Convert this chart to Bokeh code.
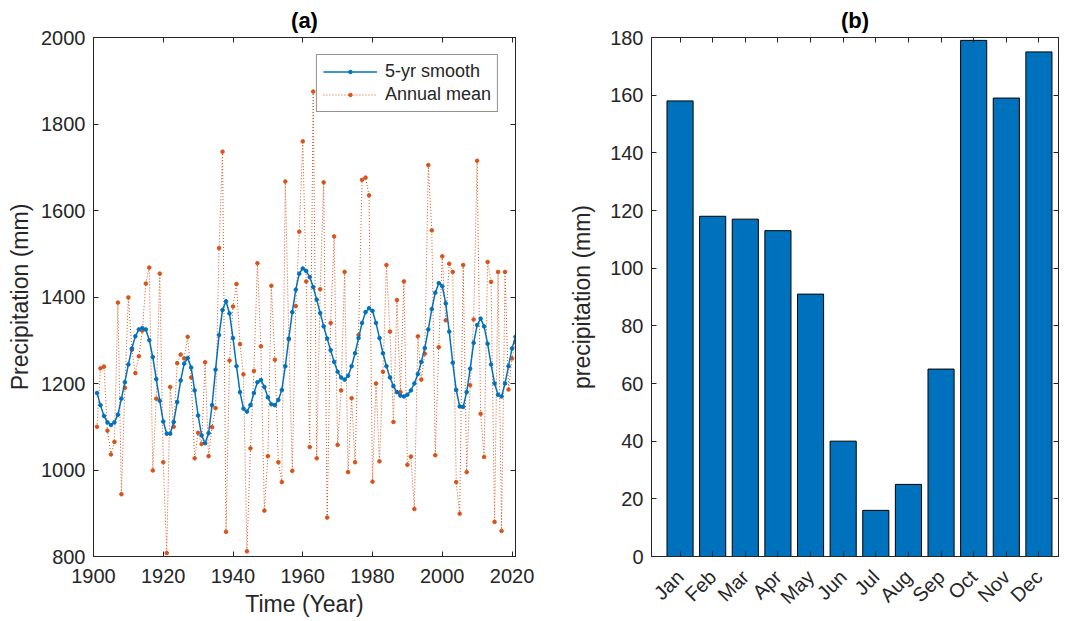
import math
from bokeh.plotting import figure
from bokeh.layouts import row
from bokeh.models import (Range1d, LinearAxis, FixedTicker, Legend, LegendItem,
                          ColumnDataSource)
from bokeh.embed import file_html
from bokeh.resources import INLINE

# ---- data -------------------------------------------------------------
years = list(range(1901, 2022))

annual_mean = [
    1100, 1235, 1239, 1091, 1036, 1065, 1387, 944, 1190, 1399,   # 1901-1910
    1278, 1224, 1263, 1322, 1431, 1468, 999, 1165, 1454, 1018,   # 1911-1920
    808, 1192, 1100, 1247, 1267, 1258, 1308, 1214, 1027, 1086,   # 1921-1930
    1060, 1249, 1032, 1099, 1143, 1513, 1736, 857, 1253, 1378,   # 1931-1940
    1430, 1291, 1221, 812, 1050, 1229, 1478, 1286, 906, 1032,    # 1941-1950
    1426, 1255, 1018, 972, 1667, 1302, 998, 1379, 1551, 1760,    # 1951-1960
    1436, 1053, 1875, 1027, 1418, 1665, 890, 1340, 1540, 1058,   # 1961-1970
    1184, 1458, 995, 1166, 1018, 1312, 1671, 1676, 1635, 973,    # 1971-1980
    1200, 1020, 1227, 1474, 1320, 1111, 1393, 1180, 1436, 1012,  # 1981-1990
    1031, 910, 1309, 1209, 1269, 1705, 1554, 1034, 1284, 1494,   # 1991-2000
    1346, 1477, 1458, 972, 899, 1474, 995, 1196, 1348, 1715,     # 2001-2010
    1130, 1030, 1481, 1435, 880, 1458, 859, 1458, 1186, 1258,    # 2011-2020
    1296,                                                        # 2021
]

smooth_5yr = [
    1178, 1150, 1125, 1110, 1104, 1110, 1128, 1165, 1203, 1244,  # 1901-1910
    1281, 1309, 1325, 1328, 1325, 1300, 1261, 1210, 1160, 1112,  # 1911-1920
    1084, 1084, 1111, 1157, 1207, 1246, 1259, 1237, 1184, 1126,  # 1921-1930
    1080, 1062, 1085, 1150, 1232, 1312, 1370, 1390, 1362, 1305,  # 1931-1940
    1240, 1180, 1142, 1135, 1150, 1178, 1203, 1208, 1192, 1168,  # 1941-1950
    1152, 1150, 1162, 1185, 1240, 1304, 1365, 1417, 1454, 1466,  # 1951-1960
    1460, 1446, 1423, 1394, 1363, 1332, 1304, 1277, 1250, 1227,  # 1961-1970
    1214, 1209, 1218, 1240, 1270, 1305, 1340, 1365, 1374, 1368,  # 1971-1980
    1340, 1305, 1270, 1240, 1214, 1194, 1180, 1172, 1170, 1174,  # 1981-1990
    1184, 1200, 1222, 1250, 1282, 1325, 1372, 1410, 1432, 1425,  # 1991-2000
    1385, 1320, 1248, 1185, 1147, 1146, 1180, 1234, 1294, 1335,  # 2001-2010
    1350, 1332, 1292, 1244, 1200, 1174, 1170, 1200, 1240, 1281,  # 2011-2020
    1308,                                                        # 2021
]

year_ticks = [1900, 1920, 1940, 1960, 1980, 2000, 2020]
rain_ticks = [800, 1000, 1200, 1400, 1600, 1800, 2000]

months = ["Jan", "Feb", "Mar", "Apr", "May", "Jun",
          "Jul", "Aug", "Sep", "Oct", "Nov", "Dec"]
monthly_precip = [158, 118, 117, 113, 91, 40, 16, 25, 65, 179, 159, 175]
month_ticks = list(range(1, 13))
monthly_ticks = [0, 20, 40, 60, 80, 100, 120, 140, 160, 180]

# ---- style ------------------------------------------------------------
BLUE = "#0072BD"
ORANGE = "#D95319"
INK = "#262626"
FONT = "Liberation Sans"
TICK_SIZE = "20px"
LABEL_SIZE = "23px"
TITLE_SIZE = "22px"


def style_axis(ax, ticks, show_labels=True, standoff=7, label_standoff=6):
    ax.ticker = FixedTicker(ticks=ticks)
    ax.axis_line_color = INK
    ax.axis_line_width = 1
    ax.major_tick_line_color = INK
    ax.major_tick_in = 5
    ax.major_tick_out = 0
    ax.minor_tick_line_color = None
    ax.major_label_text_font = FONT
    ax.axis_label_text_font = FONT
    ax.axis_label_text_color = INK
    ax.axis_label_text_font_style = "normal"
    ax.axis_label_text_font_size = LABEL_SIZE
    ax.axis_label_standoff = label_standoff
    if show_labels:
        ax.major_label_text_color = INK
        ax.major_label_text_font_size = TICK_SIZE
        ax.major_label_standoff = standoff
    else:
        # mirrored box ticks only, no numbers
        ax.major_label_text_color = None
        ax.major_label_text_font_size = "1px"
        ax.major_label_standoff = 0


def frame_box(fig, xticks, yticks):
    top = LinearAxis()
    right = LinearAxis()
    style_axis(top, xticks, show_labels=False)
    style_axis(right, yticks, show_labels=False)
    fig.add_layout(top, "above")
    fig.add_layout(right, "right")
    fig.outline_line_color = INK
    fig.outline_line_width = 1
    fig.xgrid.grid_line_color = None
    fig.ygrid.grid_line_color = None
    fig.title.align = "center"
    fig.title.text_font = FONT
    fig.title.text_font_size = TITLE_SIZE
    fig.title.text_font_style = "bold"
    fig.title.text_color = "#000000"


# ---- (a) annual series --------------------------------------------------
pa = figure(width=545, height=621, output_backend="svg", toolbar_location=None,
            x_range=Range1d(1900, 2021), y_range=Range1d(800, 2000),
            min_border_left=93, min_border_right=30,
            min_border_top=37, min_border_bottom=65, title="(a)")
pa.xaxis.axis_label = "Time (Year)"
pa.yaxis.axis_label = "Precipitation (mm)"
style_axis(pa.xaxis[0], year_ticks, standoff=12, label_standoff=5)
style_axis(pa.yaxis[0], rain_ticks, standoff=8, label_standoff=5)
frame_box(pa, year_ticks, rain_ticks)

src = ColumnDataSource(dict(year=years, annual=annual_mean, smooth=smooth_5yr))
ann_line = pa.line("year", "annual", source=src, line_color=ORANGE,
                   line_width=1, line_dash="1 2")
ann_dot = pa.scatter("year", "annual", source=src, size=3.6, marker="circle",
                     fill_color=ORANGE, line_color=ORANGE)
sm_line = pa.line("year", "smooth", source=src, line_color=BLUE, line_width=1.5)
sm_dot = pa.scatter("year", "smooth", source=src, size=3.6, marker="circle",
                    fill_color=BLUE, line_color=BLUE)

legend = Legend(items=[
    LegendItem(label="5-yr smooth", renderers=[sm_line, sm_dot]),
    LegendItem(label="Annual mean", renderers=[ann_line, ann_dot]),
], location="top_right")
legend.margin = 17
legend.padding = 6
legend.spacing = 2
legend.glyph_width = 54
legend.glyph_height = 9
legend.label_standoff = 8
legend.label_text_font = FONT
legend.label_text_font_size = "18px"
legend.label_text_color = INK
legend.border_line_color = INK
legend.border_line_width = 1
legend.background_fill_alpha = 1
pa.add_layout(legend, "center")

# ---- (b) monthly bars ---------------------------------------------------
pb = figure(width=522, height=621, output_backend="svg", toolbar_location=None,
            x_range=Range1d(0.125, 12.6), y_range=Range1d(0, 180),
            min_border_left=106, min_border_right=9,
            min_border_top=37, min_border_bottom=65, title="(b)")
pb.yaxis.axis_label = "precipitation (mm)"
style_axis(pb.xaxis[0], month_ticks, standoff=17)
style_axis(pb.yaxis[0], monthly_ticks, standoff=8, label_standoff=12)
pb.xaxis.major_label_overrides = {m: name for m, name in zip(month_ticks, months)}
pb.xaxis.major_label_orientation = math.pi / 4
frame_box(pb, month_ticks, monthly_ticks)

bsrc = ColumnDataSource(dict(month=month_ticks, precip=monthly_precip))
pb.vbar(x="month", top="precip", width=0.8, source=bsrc,
        fill_color=BLUE, line_color="#000000", line_width=1)

layout = row(pa, pb)
open("out.html", "w").write(file_html(layout, INLINE))
